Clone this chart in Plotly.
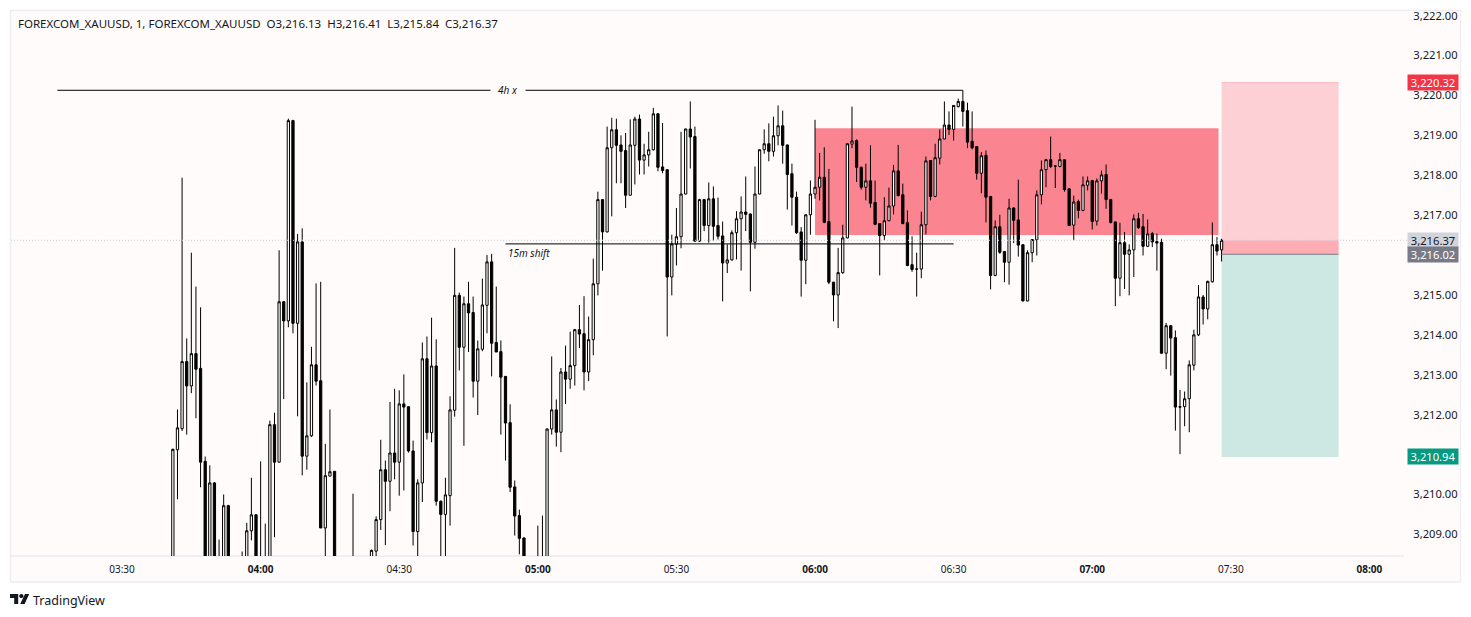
import pandas as pd
import plotly.graph_objects as go

DAY = "2025-04-03 "
START_TIME = DAY + "03:41"

opens = [
3208.0,3211.12,3211.65,3213.33,3212.72,3213.53,3213.16,3210.83,3208.1,3210.29,
3207.5,3208.2,3209.72,3208.0,3207.8,3207.9,3208.2,3209.09,3209.49,3208.1,
3208.2,3208.2,3211.75,3210.81,3214.83,3214.35,3219.37,3214.29,3216.33,3210.96,
3211.47,3213.25,3212.85,3209.16,3210.46,3210.58,3208.1,3207.9,3207.8,3208.2,
3208.1,3208.0,3207.9,3208.1,3208.58,3209.37,3210.62,3210.33,3211.04,3210.81,
3212.27,3212.2,3211.09,3209.07,3210.29,3213.40,3211.55,3213.22,3209.83,3209.5,
3209.97,3212.11,3214.99,3213.69,3214.78,3214.56,3212.84,3213.64,3214.74,3215.83,
3213.81,3213.58,3212.96,3211.8,3210.19,3209.47,3208.91,3208.1,3207.9,3208.0,
3208.1,3208.2,3211.64,3212.12,3211.56,3213.07,3212.89,3213.23,3214.13,3214.03,
3213.07,3213.88,3215.28,3217.39,3216.58,3218.69,3219.14,3218.76,3218.62,3217.5,
3218.75,3219.41,3218.38,3218.51,3218.64,3219.54,3218.21,3218.14,3215.45,3216.27,
3216.46,3217.53,3219.16,3218.97,3216.35,3217.39,3216.74,3217.41,3216.74,3216.48,
3215.8,3215.88,3216.56,3216.91,3217.08,3217.03,3216.32,3217.53,3218.64,3218.79,
3218.6,3218.99,3219.24,3218.76,3218.04,3217.45,3216.58,3215.87,3217.01,3217.53,
3217.7,3217.95,3216.84,3215.32,3215.0,3215.56,3216.43,3218.78,3218.87,3218.2,
3217.7,3217.86,3217.32,3216.79,3216.49,3216.86,3217.23,3218.11,3217.51,3216.81,
3215.76,3215.65,3215.65,3216.76,3218.37,3217.47,3218.43,3218.91,3219.26,3219.15,
3219.72,3219.85,3219.62,3218.85,3218.72,3218.05,3218.5,3217.47,3215.49,3216.71,
3216.09,3215.82,3217.18,3216.88,3216.26,3214.85,3216.06,3216.38,3217.51,3218.14,
3218.39,3218.23,3218.22,3218.39,3217.66,3216.75,3217.34,3217.12,3217.75,3217.87,
3216.85,3217.86,3218.02,3217.39,3216.83,3215.42,3216.31,3216.02,3216.13,3216.91,
3216.71,3216.22,3216.54,3216.34,3216.32,3213.54,3214.23,3213.93,3212.2,3212.2,
3212.4,3213.24,3214.0,3214.95,3214.65,3215.33,3216.26,3216.13]

highs = [
3211.15,3212.13,3217.94,3213.91,3216.06,3215.21,3214.69,3210.95,3210.73,3210.31,
3208.87,3210.0,3209.74,3208.2,3208.1,3208.57,3209.29,3210.42,3209.51,3210.83,
3209.27,3211.85,3212.05,3216.12,3214.85,3219.42,3219.39,3216.53,3216.67,3212.81,
3213.7,3215.29,3215.33,3211.27,3212.13,3210.58,3208.2,3208.0,3207.9,3210.02,
3208.2,3208.1,3208.2,3208.62,3209.45,3211.37,3210.85,3212.32,3212.65,3212.61,
3213.01,3212.2,3211.35,3210.38,3213.81,3213.96,3214.43,3213.89,3209.85,3210.42,
3212.46,3216.18,3215.06,3214.96,3215.33,3214.96,3213.86,3215.41,3216.0,3216.03,
3215.21,3213.86,3212.96,3212.26,3210.35,3209.62,3208.93,3208.2,3208.1,3209.22,
3209.47,3211.66,3213.46,3212.38,3213.17,3213.73,3214.08,3214.15,3214.75,3214.97,
3214.46,3215.91,3217.59,3217.4,3219.22,3219.44,3219.42,3219.0,3219.06,3219.4,
3219.47,3219.52,3218.79,3219.09,3219.69,3219.56,3219.31,3218.14,3216.51,3217.18,
3219.09,3219.17,3219.85,3219.22,3217.41,3217.4,3217.82,3217.72,3217.44,3216.84,
3216.27,3216.62,3217.1,3217.47,3217.97,3217.04,3218.22,3218.65,3219.15,3219.3,
3219.47,3219.75,3219.62,3218.77,3218.29,3217.59,3216.7,3217.02,3217.87,3219.39,
3218.56,3218.7,3218.16,3215.33,3216.18,3216.76,3218.81,3219.72,3218.9,3218.22,
3218.29,3218.75,3217.87,3216.8,3217.45,3217.69,3218.26,3218.76,3217.79,3217.12,
3216.47,3216.06,3217.09,3218.47,3218.38,3218.79,3219.15,3219.85,3219.6,3219.76,
3219.92,3219.9,3219.82,3219.6,3218.73,3218.58,3218.62,3217.48,3216.87,3217.01,
3216.1,3217.41,3217.2,3217.89,3216.27,3216.12,3216.4,3217.62,3218.37,3218.41,
3218.97,3218.24,3218.56,3218.4,3217.67,3217.49,3217.39,3217.97,3217.97,3217.88,
3217.92,3218.12,3218.27,3217.41,3216.84,3216.81,3216.58,3216.27,3217.02,3217.06,
3217.03,3216.89,3216.58,3216.54,3216.41,3214.3,3214.25,3214.11,3212.62,3212.58,
3213.36,3214.13,3215.25,3215.0,3215.36,3216.82,3216.45,3216.41]

lows = [
3207.8,3209.88,3211.59,3211.5,3212.54,3211.91,3210.18,3207.8,3207.9,3208.0,
3207.4,3208.0,3207.9,3207.7,3207.6,3207.7,3208.0,3208.85,3208.0,3207.9,
3207.9,3208.0,3208.93,3210.8,3212.39,3214.19,3214.04,3211.96,3210.48,3210.62,
3211.44,3212.73,3209.16,3208.2,3210.46,3208.0,3207.8,3207.7,3207.7,3207.9,
3207.9,3207.8,3207.8,3208.0,3208.2,3209.11,3208.73,3209.58,3210.38,3209.97,
3210.1,3211.05,3208.72,3208.3,3209.81,3211.38,3211.31,3209.72,3208.3,3208.3,
3209.22,3211.95,3213.11,3211.22,3213.57,3212.43,3211.99,3213.59,3214.04,3212.96,
3213.57,3211.5,3210.85,3210.06,3208.97,3208.5,3208.0,3207.8,3207.8,3207.9,
3207.9,3208.0,3211.5,3211.2,3211.06,3212.27,3212.65,3212.73,3213.67,3212.61,
3212.84,3213.49,3214.99,3215.61,3216.57,3216.97,3217.8,3217.8,3217.18,3217.5,
3217.77,3218.02,3218.02,3218.22,3218.62,3218.1,3218.05,3213.96,3214.99,3215.74,
3216.17,3217.52,3218.17,3216.33,3216.33,3216.6,3216.31,3216.35,3216.39,3214.84,
3215.55,3215.86,3215.89,3215.61,3216.6,3215.09,3216.16,3217.52,3218.54,3218.35,
3218.47,3218.75,3218.29,3217.14,3216.74,3216.53,3214.96,3215.27,3216.51,3217.41,
3217.37,3216.8,3215.27,3214.34,3214.17,3215.53,3216.42,3218.68,3217.83,3217.64,
3217.37,3217.19,3216.75,3215.49,3216.37,3216.85,3217.02,3217.47,3216.77,3215.72,
3215.58,3214.96,3215.42,3216.52,3217.37,3217.45,3218.27,3218.9,3219.01,3218.87,
3219.7,3219.22,3218.68,3218.65,3217.89,3217.55,3216.82,3215.14,3215.47,3216.03,
3215.32,3215.26,3216.3,3215.96,3214.84,3214.84,3215.82,3215.99,3217.27,3217.7,
3218.18,3217.68,3218.2,3217.59,3216.73,3216.37,3216.92,3217.1,3217.62,3216.64,
3216.74,3217.54,3217.16,3216.79,3214.72,3214.97,3215.15,3214.99,3215.45,3216.66,
3215.99,3216.2,3216.2,3215.61,3213.53,3213.14,3212.98,3211.6,3211.01,3211.71,
3211.56,3213.11,3213.97,3214.26,3214.39,3215.31,3215.99,3215.84]

closes = [
3211.13,3211.67,3213.33,3212.72,3213.53,3213.14,3210.81,3208.0,3210.29,3208.2,
3208.2,3209.72,3208.0,3207.8,3207.9,3208.1,3209.09,3209.49,3208.1,3208.2,
3208.1,3211.75,3210.81,3214.83,3214.35,3219.37,3214.29,3216.33,3210.96,3211.47,
3213.25,3212.84,3209.16,3210.47,3210.57,3208.1,3207.9,3207.8,3208.0,3208.1,
3208.0,3207.9,3208.0,3208.6,3209.37,3210.62,3210.33,3211.04,3210.81,3212.27,
3212.19,3211.09,3209.07,3210.29,3213.40,3211.55,3213.22,3209.83,3209.5,3209.99,
3212.12,3214.99,3213.69,3214.78,3214.55,3212.84,3213.65,3214.75,3215.83,3213.79,
3213.57,3212.94,3211.79,3210.18,3209.46,3208.9,3208.1,3207.9,3208.0,3208.1,
3208.2,3211.64,3212.12,3211.56,3213.07,3212.89,3213.23,3214.13,3214.02,3213.07,
3213.88,3215.28,3217.39,3216.58,3218.69,3219.14,3218.75,3218.6,3217.5,3218.76,
3219.41,3218.38,3218.51,3218.64,3219.54,3218.2,3218.12,3215.45,3216.28,3216.46,
3217.53,3219.16,3218.96,3216.35,3217.39,3216.74,3217.41,3216.72,3216.47,3215.8,
3215.88,3216.56,3216.91,3217.08,3217.02,3216.32,3217.53,3218.64,3218.79,3218.6,
3218.99,3219.24,3218.75,3218.02,3217.45,3216.56,3215.87,3217.01,3217.53,3217.7,
3217.95,3216.82,3215.32,3215.0,3215.56,3216.43,3218.79,3218.86,3218.2,3217.7,
3217.86,3217.3,3216.77,3216.49,3216.86,3217.23,3218.11,3217.49,3216.79,3215.74,
3215.64,3215.65,3216.76,3218.36,3217.47,3218.44,3218.91,3219.26,3219.15,3219.75,
3219.85,3219.6,3218.83,3218.69,3218.05,3218.49,3217.45,3215.49,3216.71,3216.07,
3215.82,3217.18,3216.87,3216.25,3214.85,3216.06,3216.39,3217.51,3218.14,3218.39,
3218.22,3218.23,3218.39,3217.64,3216.74,3217.33,3217.12,3217.76,3217.86,3216.84,
3217.86,3218.01,3217.39,3216.82,3215.42,3216.31,3216.02,3216.13,3216.91,3216.69,
3216.22,3216.53,3216.33,3216.3,3213.54,3214.23,3213.92,3212.19,3212.19,3212.4,
3213.25,3214.0,3214.95,3214.65,3215.34,3216.26,3216.1,3216.37]

assert len(opens) == len(highs) == len(lows) == len(closes) == 228

tick_times = ["03:30", "04:00", "04:30", "05:00", "05:30", "06:00", "06:30", "07:00", "07:30", "08:00"]
price_ticks = [3209, 3210, 3212, 3213, 3214, 3215, 3217, 3218, 3219, 3220, 3221, 3222]

LAST_PRICE = 3216.37
ENTRY = 3216.02
STOP = 3220.32
TARGET = 3210.94
ZONE_TOP = 3219.18
ZONE_BOTTOM = 3216.50
LINE_4H = 3220.13
LINE_15M = 3216.28

BG = "#FFFBFA"
FONT = "Noto Sans"
INK = "#131722"

# pixel layout of the plotting area
L, R, T, B = 11, 1407, 11, 556
def px(x):
    return (x - L) / (R - L)
def py(y):
    return (B - y) / (B - T)

times = pd.date_range(START_TIME, periods=len(opens), freq="min")

fig = go.Figure(go.Candlestick(
    x=times, open=opens, high=highs, low=lows, close=closes,
    increasing=dict(line=dict(color="#000000", width=1), fillcolor="#FFFFFF"),
    decreasing=dict(line=dict(color="#000000", width=1), fillcolor="#000000"),
    whiskerwidth=0, hoverinfo="skip", showlegend=False,
))

def rect_data(x0, x1, y0, y1, color, layer="below"):
    return dict(type="rect", xref="x", yref="y", x0=DAY + x0, x1=DAY + x1, y0=y0, y1=y1,
                fillcolor=color, line_width=0, layer=layer)

def line_data(x0, y0, x1, y1, color="#000000", width=1, dash="solid", layer="above"):
    return dict(type="line", xref="x", yref="y", x0=DAY + x0, x1=DAY + x1, y0=y0, y1=y1,
                line=dict(color=color, width=width, dash=dash), layer=layer)

circle = "M 19.2,596 C 19.2,594.8 20.2,593.9 21.4,593.9 C 22.6,593.9 23.5,594.8 23.5,596 C 23.5,597.2 22.6,598.1 21.4,598.1 C 20.2,598.1 19.2,597.2 19.2,596 Z"

def path_paper(s):
    out = []
    for tok in s.split():
        if "," in tok:
            a, b = tok.split(",")
            out.append(f"{px(float(a)):.5f},{py(float(b)):.5f}")
        else:
            out.append(tok)
    return " ".join(out)

shapes = [
    dict(type="rect", xref="paper", yref="paper", x0=px(10.5), x1=px(1460.5), y0=py(582), y1=py(10.5),
         fillcolor=BG, line=dict(color="#EEEDF2", width=1.5), layer="below"),
    dict(type="line", xref="paper", yref="paper", x0=px(11), x1=px(1404), y0=py(556), y1=py(556),
         line=dict(color="#E0E3EB", width=1), layer="below"),
    rect_data("06:00", "07:27:20", ZONE_BOTTOM, ZONE_TOP, "#FA848F"),
    rect_data("07:28", "07:53:20", LAST_PRICE, STOP, "#FDD0D5"),
    rect_data("07:28", "07:53:20", ENTRY, LAST_PRICE, "#FFADB4"),
    rect_data("07:28", "07:53:20", TARGET, ENTRY, "#CDE8E2"),
    line_data("07:28", ENTRY, "07:53:20", ENTRY, "#787B86", 1),
    line_data("07:28", STOP, "07:53:20", STOP, "#FDB4BB", 1),
    line_data("03:16", LINE_4H, "06:32", LINE_4H),
    line_data("06:32", LINE_4H, "06:32", 3219.9),
    line_data("04:53", LINE_15M, "06:30", LINE_15M),
    dict(type="line", xref="paper", yref="y", x0=0, x1=1, y0=LAST_PRICE, y1=LAST_PRICE,
         line=dict(color="#C9CCD6", width=1, dash="1px,2px"), layer="above"),
    dict(type="path", xref="paper", yref="paper", fillcolor="#131722", line_width=0,
         path=path_paper("M 10,594 L 18.2,594 L 18.2,604 L 14.2,604 L 14.2,598 L 10,598 Z")),
    dict(type="path", xref="paper", yref="paper", fillcolor="#131722", line_width=0,
         path=path_paper(circle)),
    dict(type="path", xref="paper", yref="paper", fillcolor="#131722", line_width=0,
         path=path_paper("M 25,594 L 29.2,594 L 24.6,604 L 20.2,604 Z")),
]

def tag(price, text, bg, fg):
    return dict(xref="paper", yref="y", x=1, y=price, xanchor="left", yanchor="middle",
                text=text, showarrow=False, bgcolor=bg, width=50, height=15, borderpad=0, align="center",
                font=dict(family=FONT, size=11.2, color=fg))

annotations = [
    dict(xref="paper", yref="paper", x=px(16), y=py(24), xanchor="left", yanchor="middle", showarrow=False,
         text="FOREXCOM_XAUUSD, 1, FOREXCOM_XAUUSD  O3,216.13  H3,216.41  L3,215.84  C3,216.37",
         font=dict(family=FONT, size=11.5, color=INK)),
    dict(xref="paper", yref="paper", x=px(31), y=py(600), xanchor="left", yanchor="middle", showarrow=False,
         text="TradingView", font=dict(family=FONT, size=12.5, color=INK)),
    dict(xref="paper", yref="y", x=px(508), y=LINE_4H, xanchor="center", yanchor="middle", showarrow=False,
         text="<i>4h x</i>", bgcolor=BG, width=34, height=12, borderpad=0,
         font=dict(family=FONT, size=10, color=INK)),
    dict(xref="paper", yref="paper", x=px(506), y=py(253), xanchor="left", yanchor="middle", showarrow=False,
         text="<i>15m shift</i>", font=dict(family=FONT, size=10, color=INK)),
    tag(STOP, f"{STOP:,.2f}", "#F23645", "#FFFFFF"),
    tag(LAST_PRICE, f"{LAST_PRICE:,.2f}", "#D1D4DC", INK),
    tag(ENTRY, f"{ENTRY:,.2f}", "#787B86", "#FFFFFF"),
    tag(TARGET, f"{TARGET:,.2f}", "#089981", "#FFFFFF"),
]

tick_labels = [f"<b>{t}</b>" if t.endswith(":00") else t for t in tick_times]

fig.update_layout(
    width=1471, height=617,
    margin=dict(l=L, r=1471 - R, t=T, b=617 - B, pad=0, autoexpand=False),
    paper_bgcolor="#FFFFFF", plot_bgcolor="rgba(0,0,0,0)",
    showlegend=False, shapes=shapes, annotations=annotations,
    font=dict(family=FONT, color=INK),
    xaxis=dict(
        type="date", range=[DAY + "03:05:58", DAY + "08:08:08"],
        rangeslider=dict(visible=False), showgrid=False, zeroline=False, showline=False,
        tickvals=[DAY + t for t in tick_times], ticktext=tick_labels,
        tickfont=dict(family=FONT, size=10, color=INK),
        ticks="outside", ticklen=4, tickcolor="rgba(0,0,0,0)", fixedrange=True,
    ),
    yaxis=dict(
        side="right", range=[3208.458, 3222.117], showgrid=False, zeroline=False, showline=False,
        tickvals=price_ticks, tickformat=",.2f",
        tickfont=dict(family=FONT, size=11.2, color=INK),
        ticks="outside", ticklen=3, tickcolor="rgba(0,0,0,0)", fixedrange=True,
    ),
)

fig.write_html("out.html", config=dict(displayModeBar=False),
               post_script="document.body.style.margin='0';")
